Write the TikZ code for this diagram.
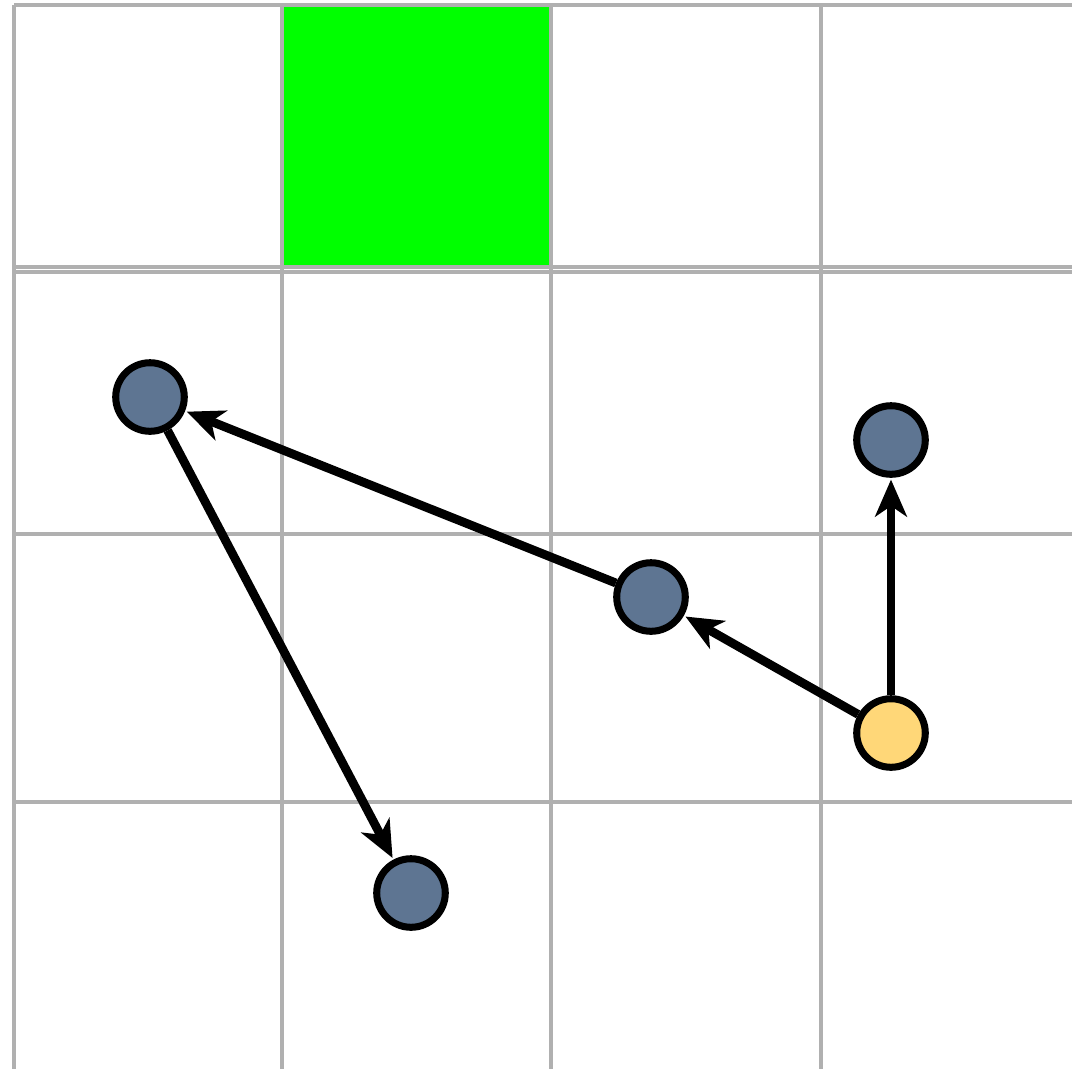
\documentclass[tikz,border=0pt]{standalone}
\usetikzlibrary{arrows.meta}
\definecolor{cellgreen}{HTML}{00FF00}
\definecolor{gridgray}{HTML}{B0B0B0}
\definecolor{agentblue}{HTML}{5E7592}
\definecolor{startyellow}{HTML}{FFD778}
\begin{document}
\begin{tikzpicture}[x=0.01cm, y=-0.01cm,
    agent/.style={circle, draw=black, line width=2pt, fill=agentblue,
        minimum size=19.5pt, inner sep=0pt},
    start/.style={agent, fill=startyellow},
    move/.style={line width=2.5pt,
        -{Stealth[length=10.5pt, width=9pt, inset=3pt]}, shorten >=0.5pt}]
    \useasboundingbox (0,0) rectangle (1072,1069);

    % Goal cell
    \fill[cellgreen] (284,7) rectangle (550,269);

    % Draw the grid
    \foreach \x in {14,282,551,821}
        \draw[gridgray, line width=1.1pt] (\x,5) -- (\x,1069);
    \foreach \y in {5,267,272,534,802}
        \draw[gridgray, line width=1.1pt] (14,\y) -- (1072,\y);

    % Agents
    \node[agent] (a1) at (150,397) {};
    \node[agent] (a2) at (891,440) {};
    \node[agent] (a3) at (651,597) {};
    \node[agent] (a4) at (411,893) {};
    \node[start] (s) at (891,733) {};

    % Moves
    \draw[move] (s) -- (a2);
    \draw[move] (s) -- (a3);
    \draw[move] (a3) -- (a1);
    \draw[move] (a1) -- (a4);
\end{tikzpicture}
\end{document}
